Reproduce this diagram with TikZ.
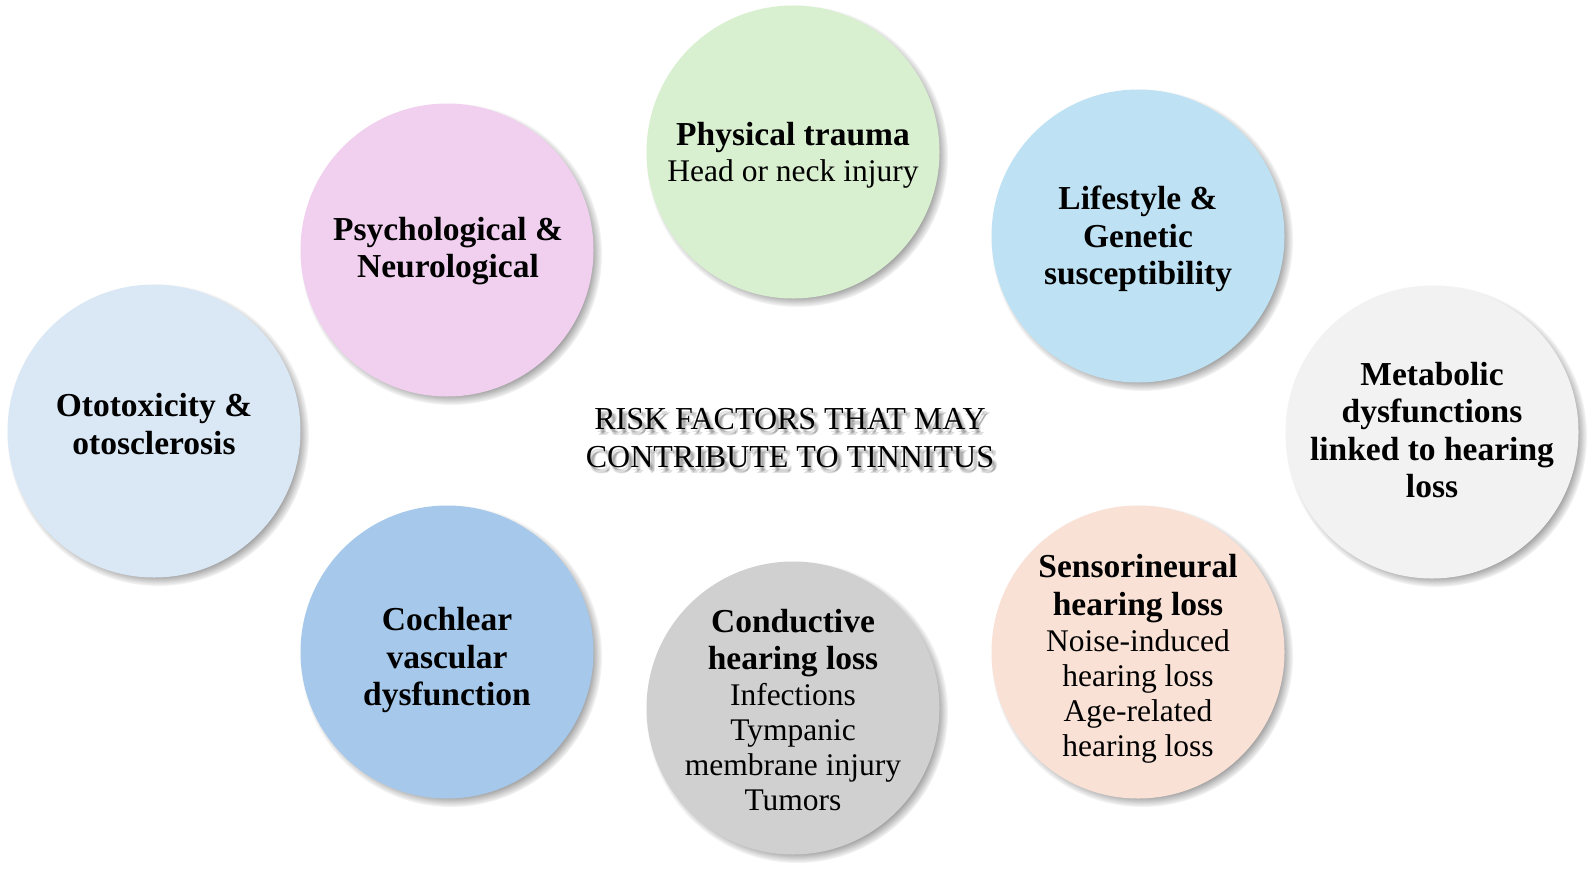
\documentclass[tikz,border=0pt]{standalone}
\usepackage{fontspec}
\setmainfont{Liberation Serif}
\usetikzlibrary{shadows,fadings}
\definecolor{cgreen}{RGB}{217,240,208}
\definecolor{cpink}{RGB}{240,208,238}
\definecolor{csky}{RGB}{190,226,243}
\definecolor{cpale}{RGB}{218,232,245}
\definecolor{clight}{RGB}{242,242,242}
\definecolor{cblue}{RGB}{166,200,234}
\definecolor{cgrey}{RGB}{208,208,208}
\definecolor{cpeach}{RGB}{249,225,214}
\tikzset{
  bubble/.style={circle, minimum size=293pt, inner sep=0pt,
    fill=#1, draw=none,
    circular drop shadow={shadow scale=1.03, shadow xshift=4pt, shadow yshift=-4pt,
      opacity=0.75, fill=black!65, path fading={circle with fuzzy edge 10 percent}}},
  label/.style={align=center, inner sep=0pt, font=\fontsize{31.5}{35}\selectfont},
  titletext/.style={align=center, font=\fontsize{32}{38}\selectfont, inner sep=0pt},
  tshadow/.style={titletext, text=black, opacity=0.12},
}
\newcommand{\bl}[1]{{\bfseries\fontsize{33.5}{37.5}\selectfont #1}}
\begin{document}
\begin{tikzpicture}[x=1pt,y=-1pt]
\useasboundingbox[fill=white] (0,0) rectangle (1595,868);
\node[bubble=cpale] (oto) at (154,431) {};
\node[bubble=cpink] (psy) at (447,250) {};
\node[bubble=cgreen] (phy) at (793,152) {};
\node[bubble=csky] (life) at (1138,236) {};
\node[bubble=clight] (meta) at (1432,432) {};
\node[bubble=cblue] (coch) at (447,652) {};
\node[bubble=cgrey] (cond) at (793,708) {};
\node[bubble=cpeach] (sens) at (1138,652) {};
\node[label] (oto-t) at (154,424) {\bl{Ototoxicity \&}\\[2.5pt]\bl{otosclerosis}};
\node[label] (psy-t) at (448,251) {\bl{Psychological \&}\\[2.5pt]\bl{Neurological}};
\node[label] (phy-t) at (793,155) {\bl{Physical trauma}\\[1pt]Head or neck injury};
\node[label] (life-t) at (1138,239) {\bl{Lifestyle \&}\\[2.5pt]\bl{Genetic}\\[2.5pt]\bl{susceptibility}};
\node[label] (meta-t) at (1432,430) {\bl{Metabolic}\\[2.5pt]\bl{dysfunctions}\\[2.5pt]\bl{linked to hearing}\\[2.5pt]\bl{loss}};
\node[label] (coch-t) at (447,660) {\bl{Cochlear}\\[2.5pt]\bl{vascular}\\[2.5pt]\bl{dysfunction}};
\node[label] (cond-t) at (793,710) {\bl{Conductive}\\[2.5pt]\bl{hearing loss}\\[1pt]Infections\\Tympanic\\membrane injury\\Tumors};
\node[label] (sens-t) at (1138,659) {\bl{Sensorineural}\\[2.5pt]\bl{hearing loss}\\[1pt]Noise-induced\\hearing loss\\Age-related\\hearing loss};
\foreach \dx/\dy [count=\i] in {2/3,4/5,3/6,5/4}{
  \node[tshadow] (tsh\i) at (790+\dx,438+\dy) {RISK FACTORS THAT MAY\\CONTRIBUTE TO TINNITUS};
}
\node[titletext, text=black] (title) at (790,438) {RISK FACTORS THAT MAY\\CONTRIBUTE TO TINNITUS};
\end{tikzpicture}
\end{document}
